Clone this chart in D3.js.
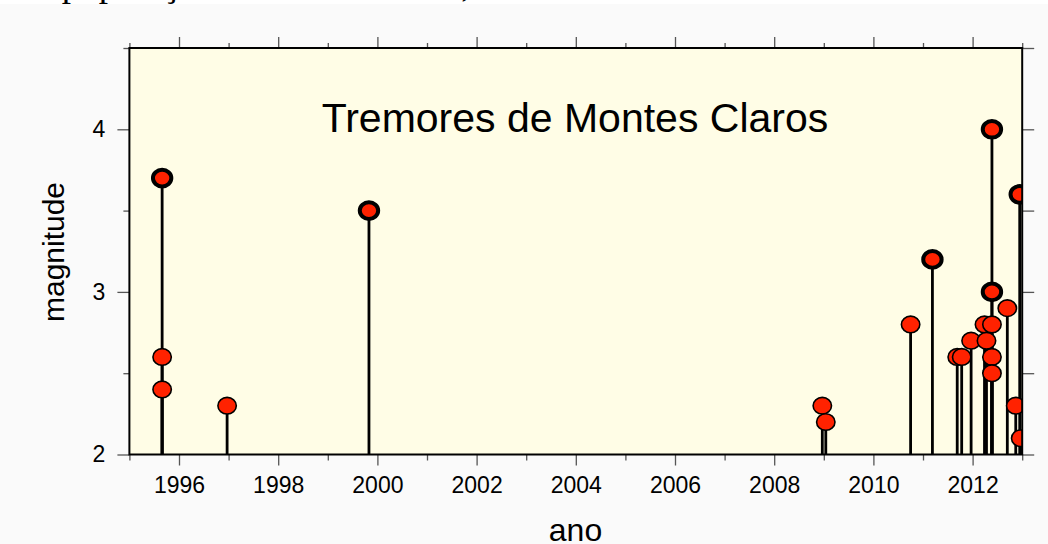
<!DOCTYPE html>
<html>
<head>
<meta charset="utf-8">
<script src="https://cdn.jsdelivr.net/npm/d3@7"></script>
<style>
  body { margin: 0; background: #fafafa; }
  svg { display: block; }
</style>
</head>
<body>
<div id="chart"></div>
<script>
// Events (decimal year) and their magnitudes, in time order
const years = [
  1995.66, 1995.66, 1995.66, 1996.97, 1999.83, 2008.97, 2009.04, 2010.75,
  2011.19, 2011.69, 2011.78, 2011.97, 2012.24, 2012.28, 2012.39, 2012.39,
  2012.39, 2012.39, 2012.39, 2012.70, 2012.87, 2012.95, 2012.97
];
const magnitudes = [
  3.7, 2.6, 2.4, 2.3, 3.5, 2.3, 2.2, 2.8,
  3.2, 2.6, 2.6, 2.7, 2.8, 2.7, 4.0, 3.0,
  2.8, 2.6, 2.5, 2.9, 2.3, 3.6, 2.1
];
const majorYears = [1996, 1998, 2000, 2002, 2004, 2006, 2008, 2010, 2012];
const minorYears = [1995, 1997, 1999, 2001, 2003, 2005, 2007, 2009, 2011, 2013];
const magTicks = [2, 3, 4];
const magMinor = [2.5, 3.5, 4.5];

const title = "Tremores de Montes Claros";
const xLabel = "ano";
const yLabel = "magnitude";
// line of the surrounding document, cut off by the top edge
const pageText = "a população da cidade sentiu,";

const data = years.map((y, i) => ({ year: y, mag: magnitudes[i] }));

const W = 1048, H = 544;
const margin = { top: 48, right: 25.8, bottom: 89.5, left: 129.4 };
const width = W - margin.left - margin.right;
const height = H - margin.top - margin.bottom;

const svg = d3.select("#chart").append("svg")
  .attr("width", W)
  .attr("height", H)
  .style("font-family", "'Liberation Sans', Arial, Helvetica, sans-serif");

// white strip with the cut-off line of document text above the figure
svg.append("rect").attr("x", 0).attr("y", 0).attr("width", W).attr("height", 4).attr("fill", "#fff");
svg.append("text")
  .attr("x", 36).attr("y", -4)
  .style("font-family", "'Liberation Serif', 'Times New Roman', serif")
  .style("font-size", "37px")
  .text(pageText);

const chart = svg.append("g").attr("transform", `translate(${margin.left},${margin.top})`);

const x = d3.scaleLinear().domain([1995, 2013]).range([0, width]);
const y = d3.scaleLinear().domain([2, 4.5]).range([height, 0]);

chart.append("defs").append("clipPath").attr("id", "plot-clip")
  .append("rect").attr("width", width).attr("height", height);

chart.append("rect")
  .attr("width", width)
  .attr("height", height)
  .attr("fill", "#fffde6");

chart.append("text")
  .attr("x", 575 - margin.left)
  .attr("y", 132 - margin.top)
  .attr("text-anchor", "middle")
  .style("font-size", "41px")
  .text(title);

// axes
function styleAxis(g) {
  g.select(".domain").remove();
  g.selectAll(".tick line").attr("stroke", "#555").attr("stroke-width", 1.3);
  g.selectAll(".tick text").attr("fill", "#000").style("font-size", "23px")
    .style("font-family", "'Liberation Sans', Arial, sans-serif");
}

chart.append("g").attr("transform", `translate(0,${height})`)
  .call(d3.axisBottom(x).tickValues(majorYears).tickSize(11).tickPadding(11.5).tickFormat(d3.format("d")))
  .call(styleAxis);
chart.append("g").attr("transform", `translate(0,${height})`)
  .call(d3.axisBottom(x).tickValues(minorYears).tickSize(6).tickFormat(""))
  .call(styleAxis);
chart.append("g")
  .call(d3.axisTop(x).tickValues(majorYears).tickSize(11).tickFormat(""))
  .call(styleAxis);
chart.append("g")
  .call(d3.axisTop(x).tickValues(minorYears).tickSize(5).tickFormat(""))
  .call(styleAxis);
chart.append("g")
  .call(d3.axisLeft(y).tickValues(magTicks).tickSize(12).tickPadding(12).tickFormat(d3.format("d")))
  .call(styleAxis);
chart.append("g")
  .call(d3.axisLeft(y).tickValues(magMinor).tickSize(6).tickFormat(""))
  .call(styleAxis);
chart.append("g").attr("transform", `translate(${width},0)`)
  .call(d3.axisRight(y).tickValues(magTicks.concat(magMinor)).tickSize(12).tickFormat(""))
  .call(styleAxis);

// stems and markers
const plot = chart.append("g").attr("clip-path", "url(#plot-clip)");

plot.selectAll(".stem").data(data).join("line")
  .attr("class", "stem")
  .attr("x1", d => x(d.year)).attr("x2", d => x(d.year))
  .attr("y1", y(2)).attr("y2", d => y(d.mag))
  .attr("stroke", "#000")
  .attr("stroke-width", 2.8);

plot.selectAll(".dot").data(data).join("ellipse")
  .attr("class", "dot")
  .attr("cx", d => x(d.year))
  .attr("cy", d => y(d.mag))
  .attr("rx", 9.2)
  .attr("ry", 8.3)
  .attr("fill", "#ff2200")
  .attr("stroke", "#000")
  .attr("stroke-width", d => d.mag >= 3 ? 4 : 1.6);

// frame
chart.append("rect")
  .attr("width", width)
  .attr("height", height)
  .attr("fill", "none")
  .attr("stroke", "#000")
  .attr("stroke-width", 2);

// axis titles
svg.append("text")
  .attr("x", 575.5)
  .attr("y", 541)
  .attr("text-anchor", "middle")
  .style("font-size", "32px")
  .text(xLabel);

svg.append("text")
  .attr("transform", `translate(64,252) rotate(-90)`)
  .attr("text-anchor", "middle")
  .style("font-size", "30px")
  .text(yLabel);
</script>
</body>
</html>
